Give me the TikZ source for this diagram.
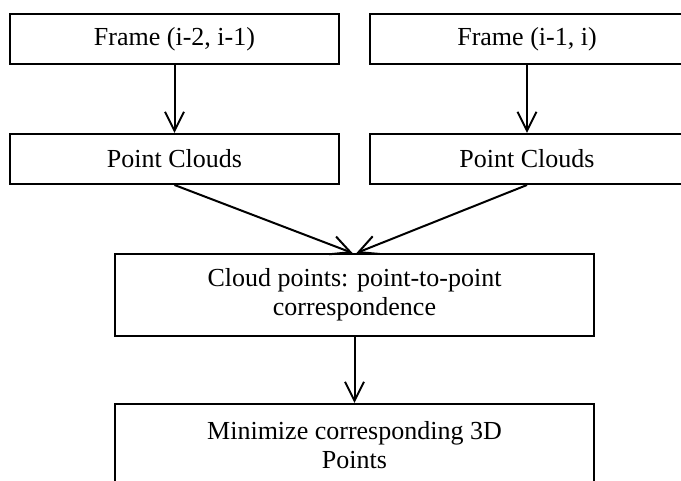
\documentclass[tikz,border=0pt]{standalone}
\usepackage{fontspec}
\setmainfont{Liberation Serif}
\usetikzlibrary{arrows.meta}
\begin{document}
\begin{tikzpicture}[x=1pt,y=1pt,
  box/.style={draw, line width=2pt, inner sep=0pt, align=center,
    font=\fontsize{26}{29.5}\selectfont},
  wide/.style={box, minimum width=329pt, minimum height=50pt},
  big/.style={box, minimum width=479pt, minimum height=82pt},
  flow/.style={line width=2pt, -{Straight Barb[length=19pt,width=19pt]}}]
\useasboundingbox (0,0) rectangle (681,481);
% input frames
\node[wide] (f1) at (174.5,442) {Frame (i-2, i-1)};
\node[wide, minimum width=314pt] (f2) at (527,442) {Frame (i-1, i)};
% point clouds
\node[wide] (p1) at (174.5,322) {Point Clouds};
\node[wide, minimum width=314pt] (p2) at (527,322) {Point Clouds};
% correspondence and minimisation
\node[big] (c) at (354.5,186) {Cloud points: point-to-point\\correspondence};
\node[big] (m) at (354.5,36) {Minimize corresponding 3D\\Points};
% connectors
\draw[flow] (f1.south) -- (p1.north);
\draw[flow] (f2.south) -- (p2.north);
\coordinate (cl) at ([xshift=-2pt]c.north);
\coordinate (cr) at ([xshift=2pt]c.north);
\draw[flow] (p1.south) -- (cl);
\draw[flow] (p2.south) -- (cr);
\draw[flow] (c.south) -- (m.north);
\end{tikzpicture}
\end{document}
